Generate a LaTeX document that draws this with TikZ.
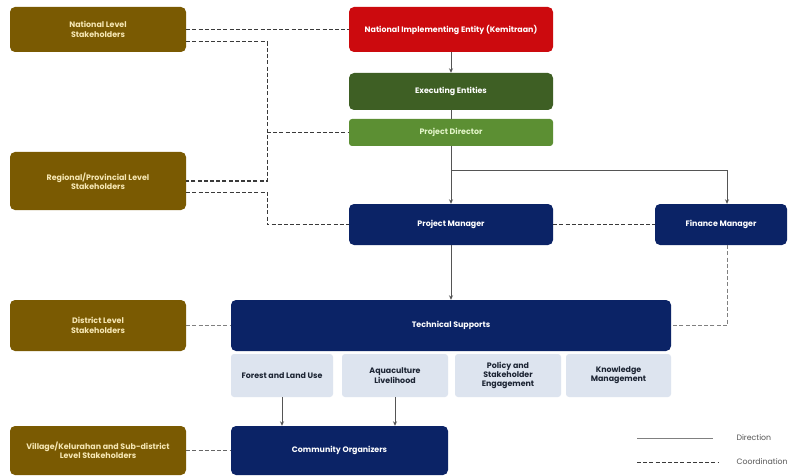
\documentclass[tikz,border=0pt]{standalone}
\usepackage{fontspec}
\setmainfont{Poppins}
\usetikzlibrary{arrows.meta,calc}
\definecolor{brownc}{HTML}{7A5A02}
\definecolor{brownt}{HTML}{F6E7B4}
\definecolor{redc}{HTML}{CC0A0E}
\definecolor{dgreen}{HTML}{3E5F24}
\definecolor{lgreen}{HTML}{5C8F33}
\definecolor{lgreent}{HTML}{E2F5C8}
\definecolor{navy}{HTML}{0B2366}
\definecolor{pale}{HTML}{DDE4EF}
\definecolor{paletext}{HTML}{1C2433}
\definecolor{dircol}{HTML}{555555}
\definecolor{coordcol}{HTML}{3A3A3A}
\begin{document}
\begin{tikzpicture}[x=1pt,y=-1pt,
  box/.style={rounded corners=5pt, inner sep=1pt, align=center, font=\fontsize{7.9}{9.3}\selectfont\bfseries},
  brownbox/.style={box, fill=brownc, text=brownt, minimum width=176pt},
  navybox/.style={box, fill=navy, text=white},
  palebox/.style={box, rounded corners=3pt, fill=pale, text=paletext, minimum height=43pt},
  dirline/.style={draw=dircol, line width=1pt},
  dirarrow/.style={dirline, -{Stealth[length=4.5pt,width=4pt]}},
  coordline/.style={draw=coordcol, line width=1pt, dash pattern=on 4pt off 2.2pt},
  legtext/.style={font=\fontsize{7.8}{9}\selectfont, text=dircol, anchor=west}]
\useasboundingbox (0,0) rectangle (790,476);
\fill[white] (0,0) rectangle (790,476);

% left stakeholder column
\node[brownbox, minimum height=45pt] (nat) at (98,29.5) {National Level\\Stakeholders};
\node[brownbox, minimum height=58pt] (reg) at (98,181) {Regional/Provincial Level\\Stakeholders};
\node[brownbox, minimum height=51pt] (dist) at (98,325.5) {District Level\\Stakeholders};
\node[brownbox, minimum height=49pt] (vil) at (98,450.5) {Village/Kelurahan and Sub-district\\Level Stakeholders};

% central column
\node[box, fill=redc, text=white, minimum width=204pt, minimum height=45pt] (nie) at (451,29.5) {National Implementing Entity (Kemitraan)};
\node[box, fill=dgreen, text=white, minimum width=204pt, minimum height=37pt] (exe) at (451,91.5) {Executing Entities};
\node[box, rounded corners=3pt, fill=lgreen, text=lgreent, minimum width=204pt, minimum height=27pt] (pd) at (451,132.5) {Project Director};
\node[navybox, minimum width=204pt, minimum height=41pt] (pm) at (451,224.5) {Project Manager};
\node[navybox, minimum width=132pt, minimum height=41pt] (fm) at (721,224.5) {Finance Manager};
\node[navybox, minimum width=440pt, minimum height=51pt] (ts) at (451,325.5) {Technical Supports};
\node[palebox, minimum width=102pt] (flu) at (282,375.5) {Forest and Land Use};
\node[palebox, minimum width=106pt] (aq) at (395,375.5) {Aquaculture\\Livelihood};
\node[palebox, minimum width=106pt] (pse) at (508,375.5) {Policy and\\Stakeholder\\Engagement};
\node[palebox, minimum width=105pt] (km) at (618.5,375.5) {Knowledge\\Management};
\node[navybox, minimum width=217pt, minimum height=49pt] (co) at (339.5,450.5) {Community Organizers};

% direction connectors
\draw[dirarrow] (nie.south) -- (exe.north);
\draw[dirline] (exe.south) -- (pd.north);
\draw[dirarrow] (pd.south) -- (pm.north);
\coordinate (split) at ($(pd.south)!0.43!(pm.north)$);
\coordinate (fmtop) at ($(fm.north)+(6,0)$);
\draw[dirarrow] (split) -| (fmtop);
\draw[dirarrow] (pm.south) -- (ts.north);
\draw[dirarrow] (flu.south) -- (flu.south |- co.north);
\draw[dirarrow] (aq.south) -- (aq.south |- co.north);

% coordination connectors
\coordinate (vx) at (267,0);
\coordinate (nat2) at ($(nat.east)+(0,12.5)$);
\coordinate (reg2) at ($(reg.east)+(0,11)$);
\draw[coordline] (nat.east) -- (nie.west);
\draw[coordline] (nat2) -- (nat2 -| vx) -- (reg.east -| vx) -- (reg.east);
\draw[coordline] (pd.west -| vx) -- (pd.west);
\draw[coordline] (reg2) -- (reg2 -| vx) -- (pm.west -| vx) -- (pm.west);
\draw[coordline] (pm.east) -- (fm.west);
\coordinate (fmbot) at ($(fm.south)+(6,0)$);
\draw[coordline, draw=gray] (fmbot) |- (ts.east);
\draw[coordline, draw=gray] (dist.east) -- (ts.west);
\draw[coordline, draw=gray!80!black] (vil.east) -- (co.west);

% legend
\coordinate (l1a) at (637,438);
\coordinate (l1b) at (713,438);
\coordinate (l2a) at (637,462);
\coordinate (l2b) at (718,462);
\draw[dirline, draw=gray] (l1a) -- (l1b);
\draw[coordline] (l2a) -- (l2b);
\node[legtext] (ldir) at (733,438) {Direction};
\node[legtext] (lcoord) at (733,462) {Coordination};
\end{tikzpicture}
\end{document}
